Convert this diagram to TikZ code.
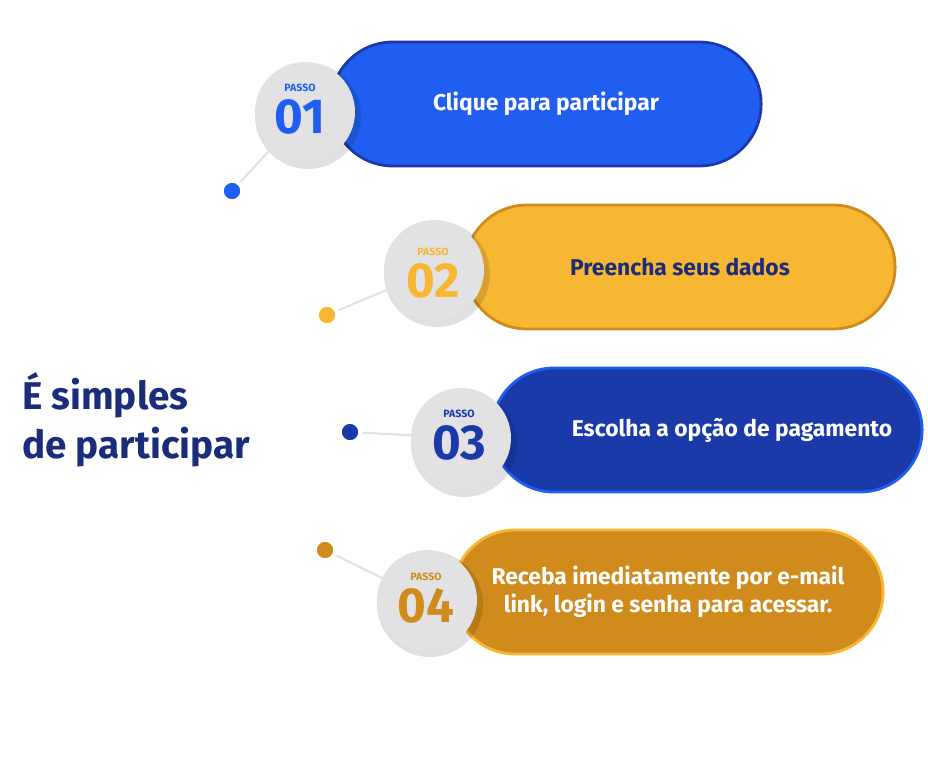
\documentclass[tikz,border=0pt]{standalone}
\usepackage{fontspec}
\setmainfont{Fira Sans}
\usetikzlibrary{positioning,shapes.misc}
\definecolor{pblue}{RGB}{31,94,240}
\definecolor{pnavy}{RGB}{26,58,170}
\definecolor{pyellow}{RGB}{247,183,51}
\definecolor{pochre}{RGB}{209,139,28}
\definecolor{tnavy}{RGB}{27,44,122}
\definecolor{ring}{RGB}{226,226,228}
\tikzset{
  pill/.style={rounded rectangle,minimum width=8.84cm,minimum height=2.48cm,line width=1.6pt,font=\bfseries\fontsize{13}{16}\selectfont,align=center},
  badge/.style={circle,fill=ring,minimum size=2.0cm,inner sep=0pt},
  num/.style={font=\bfseries\fontsize{28}{28}\selectfont,inner sep=0pt},
  passo/.style={font=\bfseries\fontsize{6}{6}\selectfont,inner sep=0pt},
  dot/.style={circle,draw=white,line width=2.5pt,minimum size=0.42cm,inner sep=0pt},
  link/.style={draw=ring,line width=1.2pt}
}
\begin{document}
\begin{tikzpicture}[x=0.02cm,y=-0.02cm]
\useasboundingbox (0,0) rectangle (928,777);
% pills
\node[pill,fill=pblue,draw=pnavy,text=white] (p1) at (546,104) {Clique para participar};
\node[pill,fill=pyellow,draw=pochre,text=tnavy] (p2) at (680,267) {Preencha seus dados};
\node[pill,fill=pnavy,draw=pblue,text=white] (p3) at (707,430) {\hspace*{1.0cm}Escolha a opção de pagamento};
\node[pill,fill=pochre,draw=pyellow,text=white] (p4) at (668,592) {Receba imediatamente por e-mail\\link, login e senha para acessar.};
% dots
\node[dot,fill=pblue] (d1) at (232,191) {};
\node[dot,fill=pyellow] (d2) at (327,315) {};
\node[dot,fill=pnavy] (d3) at (350,432) {};
\node[dot,fill=pochre] (d4) at (325,550) {};
% badge shadows
\fill[black,opacity=0.12] (308,116) circle (53);
\fill[black,opacity=0.12] (437,274) circle (53);
\fill[black,opacity=0.12] (464,444) circle (53);
\fill[black,opacity=0.12] (430,604) circle (53);
\draw[link] (d1) -- (305,112);
\draw[link] (d2) -- (434,270);
\draw[link] (d3) -- (461,438);
\draw[link] (d4) -- (427,600);
\node[badge] (b1) at (305,112) {};
\node[badge] (b2) at (434,270) {};
\node[badge] (b3) at (461,438) {};
\node[badge] (b4) at (427,600) {};
\node[num,text=pblue] (n1) at (300,117) {01};
\node[num,text=pyellow] (n2) at (433,281) {02};
\node[num,text=pnavy] (n3) at (459,443) {03};
\node[num,text=pochre] (n4) at (426,606) {04};
\node[passo,text=pblue,above=4pt of n1] {PASSO};
\node[passo,text=pyellow,above=4pt of n2] {PASSO};
\node[passo,text=pnavy,above=4pt of n3] {PASSO};
\node[passo,text=pochre,above=4pt of n4] {PASSO};
% title
\node[anchor=west,align=left,text=tnavy,font=\bfseries\fontsize{22}{28}\selectfont] (title) at (16,420) {É simples\\de participar};
\end{tikzpicture}
\end{document}
